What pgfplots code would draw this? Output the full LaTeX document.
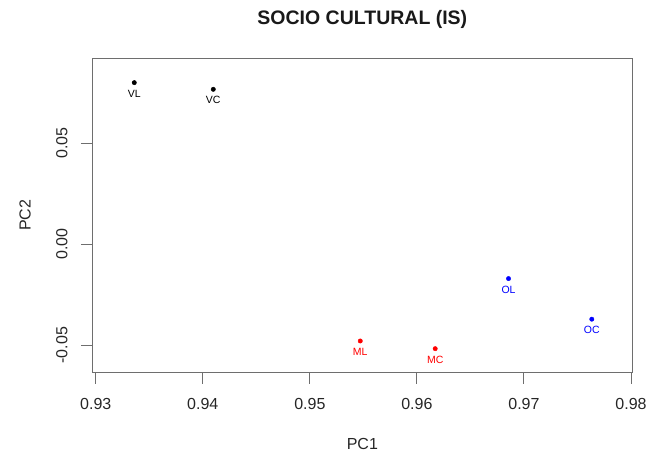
\documentclass[border=0pt]{standalone}
\usepackage{fontspec}
\setmainfont{Liberation Sans}
\usepackage{pgfplots}
\pgfplotsset{compat=1.18}
\usepackage{pgfplotstable}

\pgfplotstableread{
x        y        lab
0.93360  0.0800   VL
0.94098  0.0767   VC
}\groupV
\pgfplotstableread{
x        y        lab
0.95471  -0.0479  ML
0.96171  -0.0517  MC
}\groupM
\pgfplotstableread{
x        y        lab
0.96856  -0.0170  OL
0.97634  -0.0371  OC
}\groupO

\definecolor{rgray}{RGB}{110,110,110}

\begin{document}
\begin{tikzpicture}
\useasboundingbox (-92bp,-84.5bp) rectangle (557bp,372.5bp);
\begin{axis}[
  at={(0,0)}, anchor=south west,
  scale only axis,
  width=540.7bp, height=314.5bp,
  xmin=0.92965, xmax=0.98016,
  ymin=-0.0635, ymax=0.0922,
  axis line style={rgray, line width=0.9bp},
  every tick/.style={rgray, line width=0.9bp},
  tick align=outside,
  major tick length=11bp,
  xtick pos=bottom, ytick pos=left,
  xtick={0.93,0.94,0.95,0.96,0.97,0.98},
  ytick={-0.05,0,0.05},
  scaled ticks=false,
  /pgf/number format/assume math mode=true,
  /pgf/number format/.cd, fixed, fixed zerofill, precision=2, /pgfplots/.cd,
  ticklabel style={font=\fontsize{16bp}{18bp}\selectfont, text=black!85},
  xticklabel shift=11bp,
  yticklabel style={rotate=90, anchor=south},
  yticklabel shift=10bp,
  title={SOCIO CULTURAL (IS)},
  title style={at={(axis description cs:0.5,1.102)}, anchor=center,
    font=\fontsize{19.5bp}{22bp}\selectfont\bfseries, text=black!90},
  xlabel={PC1},
  xlabel style={at={(axis description cs:0.5,-0.2258)}, anchor=center,
    font=\fontsize{16bp}{18bp}\selectfont, text=black!85},
  ylabel={PC2},
  ylabel style={at={(axis description cs:-0.1239,0.5)}, anchor=center, rotate=0,
    font=\fontsize{16bp}{18bp}\selectfont, text=black!85},
  clip=false,
  every axis plot/.append style={only marks, mark=*, mark size=2.2bp},
  nodes near coords,
  point meta=explicit symbolic,
  every node near coord/.style={anchor=north, font=\fontsize{10.5bp}{12bp}\selectfont, inner sep=0pt, yshift=-7bp},
]
\addplot[black] table[x=x, y=y, meta=lab] {\groupV};
\addplot[red] table[x=x, y=y, meta=lab] {\groupM};
\addplot[blue] table[x=x, y=y, meta=lab] {\groupO};
\end{axis}
\end{tikzpicture}
\end{document}
